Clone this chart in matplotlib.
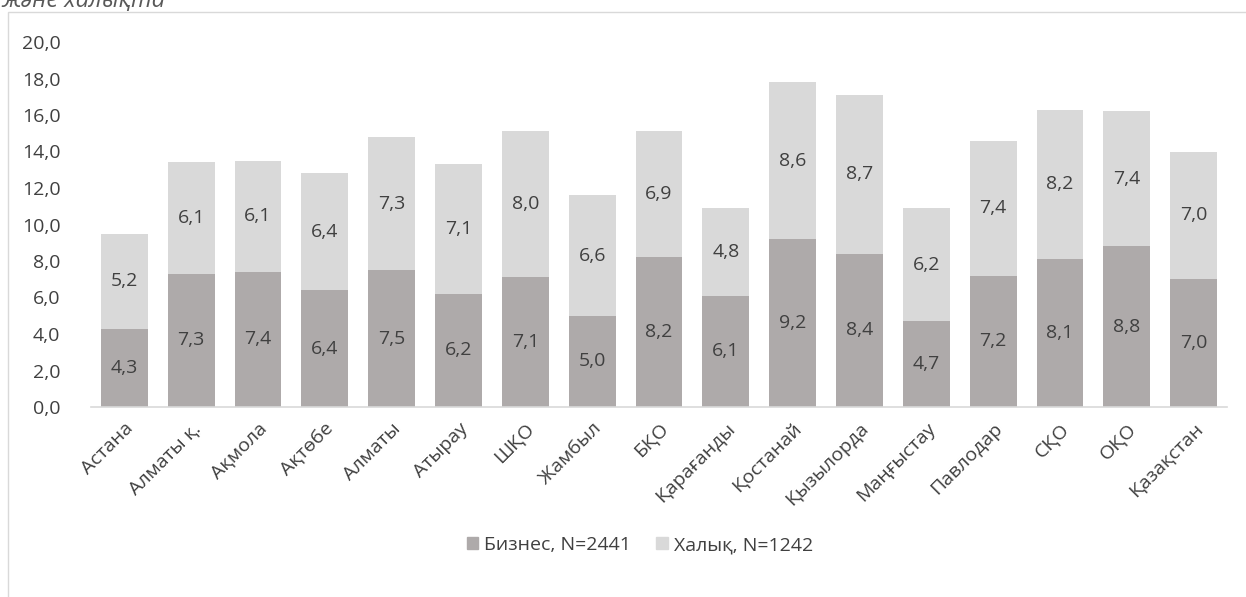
import matplotlib
matplotlib.use("Agg")
import matplotlib.pyplot as plt
from matplotlib.patches import Rectangle, Patch

categories = ["Астана", "Алматы қ.", "Ақмола", "Ақтөбе", "Алматы", "Атырау", "ШҚО",
              "Жамбыл", "БҚО", "Қарағанды", "Қостанай", "Қызылорда", "Маңғыстау",
              "Павлодар", "СҚО", "ОҚО", "Қазақстан"]
business = [4.3, 7.3, 7.4, 6.4, 7.5, 6.2, 7.1, 5.0, 8.2, 6.1, 9.2, 8.4, 4.7, 7.2, 8.1, 8.8, 7.0]
people = [5.2, 6.1, 6.1, 6.4, 7.3, 7.1, 8.0, 6.6, 6.9, 4.8, 8.6, 8.7, 6.2, 7.4, 8.2, 7.4, 7.0]
series_names = ["Бизнес, N=2441", "Халық, N=1242"]
yticks = [0, 2, 4, 6, 8, 10, 12, 14, 16, 18, 20]

plt.rcParams['font.family'] = ['Open Sans', 'DejaVu Sans']
txt = "#404040"
c_bus = "#AEAAAA"
c_peo = "#D9D9D9"
fs = 14

W, H = 1246, 597
fig = plt.figure(figsize=(W / 100, H / 100), dpi=100)
ax = fig.add_axes([91 / W, 1 - 407 / H, (1227 - 91) / W, (407 - 42) / H])

x = list(range(len(categories)))
bw = 0.70
ax.bar(x, business, width=bw, color=c_bus)
ax.bar(x, people, width=bw, bottom=business, color=c_peo)

for i in x:
    ax.text(i, business[i] / 2, f"{business[i]:.1f}".replace(".", ","), ha="center",
            va="center", color=txt, fontsize=fs)
    ax.text(i, business[i] + people[i] / 2, f"{people[i]:.1f}".replace(".", ","),
            ha="center", va="center", color=txt, fontsize=fs)

ax.set_xlim(-0.5, len(categories) - 0.5)
ax.set_ylim(0, 20)
ax.set_yticks(yticks)
ax.set_yticklabels([f"{v:.1f}".replace(".", ",") for v in yticks], color=txt, fontsize=fs)
ax.set_xticks(x)
ax.set_xticklabels(categories, rotation=45, ha="right", rotation_mode="anchor",
                   color=txt, fontsize=fs)
ax.tick_params(axis="both", length=0)
ax.tick_params(axis="y", pad=22)
ax.tick_params(axis="x", pad=9)
for s in ["top", "right", "left"]:
    ax.spines[s].set_visible(False)
ax.spines["bottom"].set_color("#D9D9D9")
ax.spines["bottom"].set_linewidth(1.2)

handles = [Patch(color=c_bus), Patch(color=c_peo)]
fig.legend(handles, series_names, loc="center", bbox_to_anchor=(640 / W, 1 - 545 / H),
           ncol=2, frameon=False, fontsize=fs, labelcolor=txt, handlelength=0.6,
           handleheight=0.6, handletextpad=0.3, columnspacing=1.3)

# outer chart border
fig.add_artist(Rectangle((8 / W, -0.05), 1.1, 1 - 12 / H + 0.05, transform=fig.transFigure,
                         fill=False, edgecolor="#D9D9D9", linewidth=1.0, clip_on=False))

# heading text, cut at the top edge as in the reference
fig.text(1 / W, 1 - 7 / H, "және халықта", fontsize=17, style="italic", color="#595959",
         ha="left", va="baseline")

fig.savefig("out.png", dpi=100)
